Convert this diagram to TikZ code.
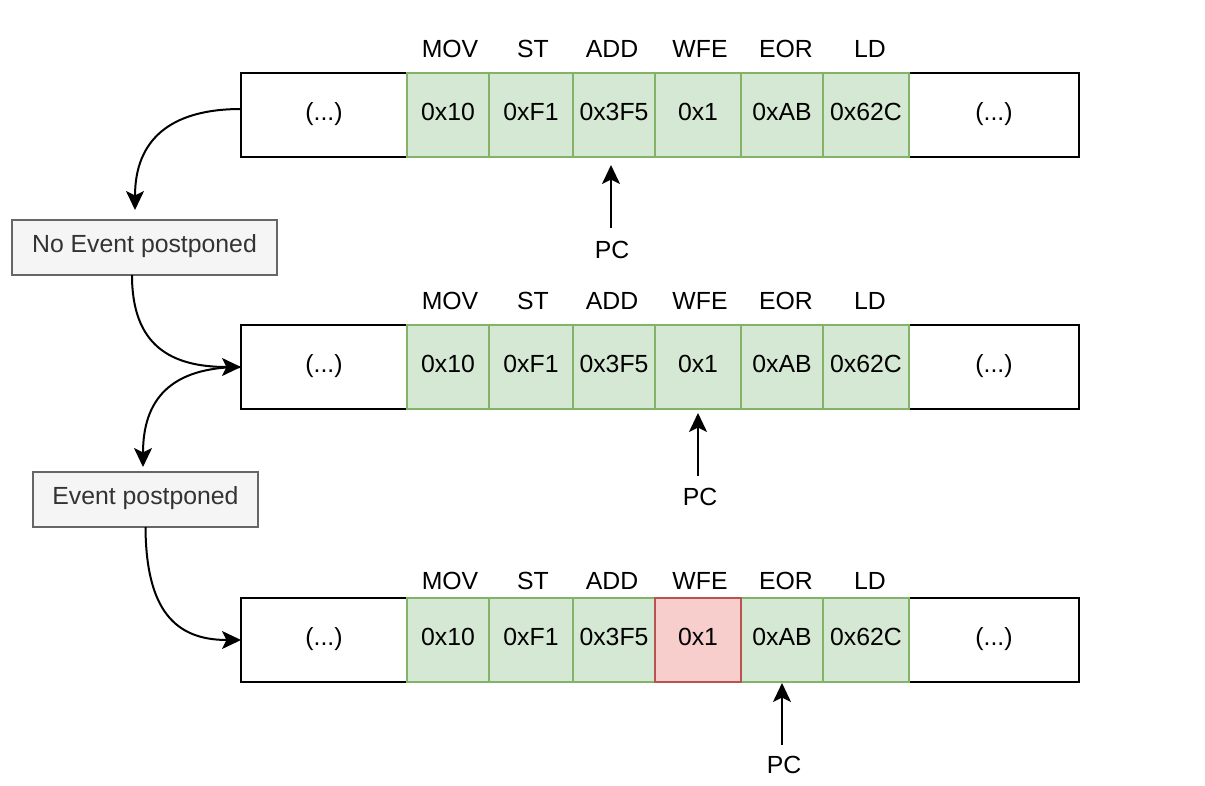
\documentclass[tikz,border=0pt]{standalone}
\usepackage{fontspec}
\setmainfont{Liberation Sans}
\usetikzlibrary{arrows.meta}
\definecolor{gfill}{HTML}{D5E8D4}
\definecolor{gdraw}{HTML}{82B366}
\definecolor{rfill}{HTML}{F8CECC}
\definecolor{rdraw}{HTML}{B85450}
\definecolor{grfill}{HTML}{F5F5F5}
\definecolor{grdraw}{HTML}{666666}
\definecolor{grtext}{HTML}{333333}
\tikzset{
 txt/.style={font=\fontsize{24.8}{28}\selectfont, text height=17.5pt, text depth=7pt, inner sep=0pt, outer sep=0pt},
 plainbox/.style={txt, draw=black, fill=white, line width=2pt, minimum height=84pt},
 okcell/.style={txt, draw=gdraw, fill=gfill, line width=2pt, minimum height=84pt},
 badcell/.style={txt, draw=rdraw, fill=rfill, line width=2pt, minimum height=84pt},
 opname/.style={txt, anchor=base},
 evbox/.style={txt, draw=grdraw, fill=grfill, text=grtext, line width=1.5pt, minimum height=55pt},
 arr/.style={line width=2pt, -{Stealth[length=19pt,width=18pt,inset=4.5pt]}},
}
\newcommand\tapeRow[4]{%
 \node[plainbox, minimum width=166pt] (#1l) at (324,#2) {(...)};
 \node[plainbox, minimum width=170pt] (#1r) at (994,#2) {(...)};
 \node[okcell, minimum width=82pt] (#1a) at (448,#2) {0x10};
 \node[okcell, minimum width=84pt] (#1b) at (531,#2) {0xF1};
 \node[okcell, minimum width=82pt] (#1c) at (614,#2) {0x3F5};
 \node[okcell, minimum width=82pt] (#1e) at (782,#2) {0xAB};
 \node[okcell, minimum width=86pt] (#1f) at (866,#2) {0x62C};
 \node[#4, minimum width=86pt] (#1d) at (698,#2) {0x1};
 \node[opname] (#1ta) at (450,#3) {MOV};
 \node[opname] (#1tb) at (533,#3) {ST};
 \node[opname] (#1tc) at (612,#3) {ADD};
 \node[opname] (#1td) at (700,#3) {WFE};
 \node[opname] (#1te) at (786,#3) {EOR};
 \node[opname] (#1tf) at (870,#3) {LD};
}
\begin{document}
\begin{tikzpicture}[x=1pt,y=-1pt]
\useasboundingbox (0,0) rectangle (1205,785);
\tapeRow{ra}{115}{57}{okcell}
\tapeRow{rb}{367}{309}{okcell}
\tapeRow{rc}{640}{589}{badcell}
% event boxes
\node[evbox, minimum width=265pt] (nb) at (144.5,247.5) {No Event postponed};
\node[evbox, minimum width=225pt] (eb) at (145.5,499.5) {Event postponed};
% PC pointers
\node[opname] (pca) at (612,258) {PC};
\node[opname] (pcb) at (700,505) {PC};
\node[opname] (pcc) at (784,773) {PC};
\draw[arr, shorten <=13pt, shorten >=8pt] ([xshift=-1pt]pca.north) -- ([xshift=-1pt]pca.north |- rac.south);
\draw[arr, shorten <=12pt, shorten >=4pt] ([xshift=-2pt]pcb.north) -- ([xshift=-2pt]pcb.north |- rbd.south);
\draw[arr, shorten <=11pt, shorten >=1pt] ([xshift=-2pt]pcc.north) -- ([xshift=-2pt]pcc.north |- rce.south);
% flow curves
\draw[arr] ([yshift=6pt]ral.west) .. controls (170,109) and (135,140) .. ([xshift=-9.5pt,yshift=10pt]nb.north);
\draw[arr] ([xshift=-12.5pt]nb.south) .. controls (132,345) and (170,367) .. (rbl.west);
\draw[arr] (rbl.west) .. controls (170,367) and (143,400) .. ([xshift=-2.5pt,yshift=5pt]eb.north);
\draw[arr] (eb.south) .. controls (146,610) and (175,640) .. (rcl.west);
\end{tikzpicture}
\end{document}
